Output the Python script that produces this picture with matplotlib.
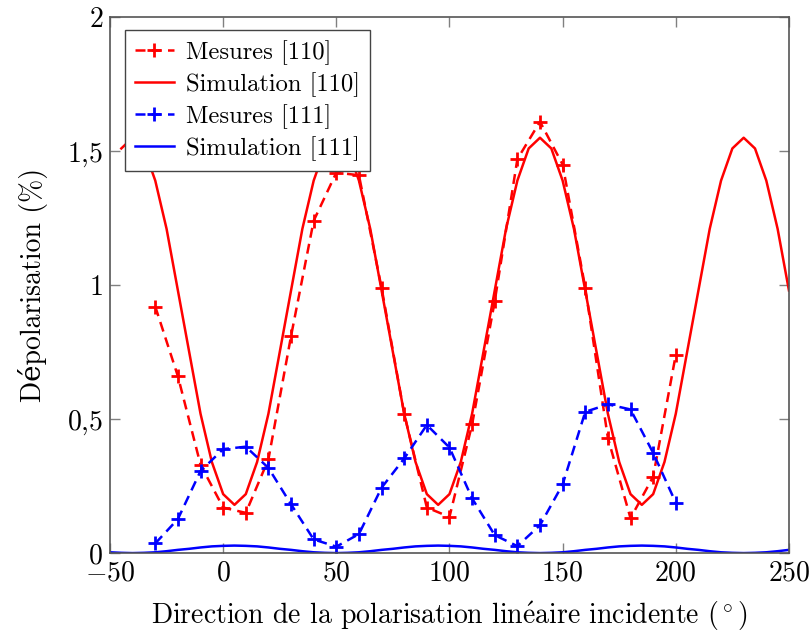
import matplotlib
matplotlib.use('Agg')
import matplotlib.pyplot as plt
import numpy as np
from matplotlib.ticker import FixedLocator, FuncFormatter

# measured points, every 10 degrees
mes_angle = np.arange(-30, 201, 10)
mes_110 = [0.92, 0.66, 0.33, 0.17, 0.15, 0.35, 0.81, 1.24, 1.42, 1.41, 0.99, 0.52,
           0.17, 0.135, 0.48, 0.94, 1.47, 1.61, 1.45, 0.99, 0.43, 0.13, 0.285, 0.74]
mes_111 = [0.036, 0.127, 0.306, 0.388, 0.397, 0.318, 0.182, 0.051, 0.024, 0.071, 0.244, 0.353,
           0.478, 0.394, 0.204, 0.067, 0.026, 0.104, 0.256, 0.527, 0.555, 0.536, 0.374, 0.188]

# simulations, every 5 degrees
sim_110_angle = np.arange(-45, 251, 5)
sim_110 = [1.51, 1.55, 1.51, 1.39, 1.21, 0.98, 0.75, 0.52, 0.34, 0.22,
           0.18, 0.22, 0.34, 0.52, 0.75, 0.98, 1.21, 1.39, 1.51, 1.55,
           1.51, 1.39, 1.21, 0.98, 0.75, 0.52, 0.34, 0.22, 0.18, 0.22,
           0.34, 0.52, 0.75, 0.98, 1.21, 1.39, 1.51, 1.55, 1.51, 1.39,
           1.21, 0.98, 0.75, 0.52, 0.34, 0.22, 0.18, 0.22, 0.34, 0.52,
           0.75, 0.98, 1.21, 1.39, 1.51, 1.55, 1.51, 1.39, 1.21, 0.98]
sim_111_angle = np.arange(-50, 251, 5)
sim_111 = [0.003, 0.001, 0.0, 0.001, 0.003, 0.007, 0.012, 0.016, 0.021, 0.025,
           0.027, 0.028, 0.027, 0.025, 0.021, 0.016, 0.012, 0.007, 0.003, 0.001,
           0.0, 0.001, 0.003, 0.007, 0.012, 0.016, 0.021, 0.025, 0.027, 0.028,
           0.027, 0.025, 0.021, 0.016, 0.012, 0.007, 0.003, 0.001, 0.0, 0.001,
           0.003, 0.007, 0.012, 0.016, 0.021, 0.025, 0.027, 0.028, 0.027, 0.025,
           0.021, 0.016, 0.012, 0.007, 0.003, 0.001, 0.0, 0.001, 0.003, 0.007,
           0.012]

x_ticks = [-50, 0, 50, 100, 150, 200, 250]
y_ticks = [0, 0.5, 1, 1.5, 2]


def tick_fmt(v, pos):
    s = f'{v:g}'.replace('.', '{,}')
    return f'${s}$'


def main():
    plt.rcParams['font.family'] = ['cmr10', 'DejaVu Serif']
    plt.rcParams['mathtext.fontset'] = 'cm'
    plt.rcParams['axes.unicode_minus'] = False

    fig = plt.figure(figsize=(8.1, 6.35), dpi=100)
    ax = fig.add_axes([0.1358, 0.129, 0.8382, 0.844])

    dash = dict(linestyle=(0, (4, 2.5)), linewidth=1.8, marker='+', markersize=10, markeredgewidth=2)
    ax.plot(mes_angle, mes_110, color='#ff0000', label='Mesures [110]', **dash)
    ax.plot(sim_110_angle, sim_110, color='#ff0000', linewidth=1.8, label='Simulation [110]')
    ax.plot(mes_angle, mes_111, color='#0000ff', label='Mesures [111]', **dash)
    ax.plot(sim_111_angle, sim_111, color='#0000ff', linewidth=1.8, label='Simulation [111]')

    ax.set_xlim(-50, 250)
    ax.set_ylim(0, 2)
    ax.xaxis.set_major_locator(FixedLocator(x_ticks))
    ax.yaxis.set_major_locator(FixedLocator(y_ticks))
    ax.xaxis.set_major_formatter(FuncFormatter(tick_fmt))
    ax.yaxis.set_major_formatter(FuncFormatter(tick_fmt))
    ax.tick_params(direction='in', length=7, width=1, color='#808080', labelsize=20,
                   top=True, right=True, pad=5)
    for s in ax.spines.values():
        s.set_color('#555555')
        s.set_linewidth(1.2)

    ax.set_xlabel(r'Direction de la polarisation lin$\mathrm{\acute{e}}$aire incidente $(^\circ)$',
                  fontsize=20, labelpad=9)
    ax.set_ylabel('Dépolarisation (%)', fontsize=20, labelpad=14)

    leg = ax.legend(loc='upper left', bbox_to_anchor=(0.022, 0.976), borderaxespad=0, fontsize=17.7,
                    fancybox=False, framealpha=1, edgecolor='#444444', handlelength=1.6, borderpad=0.4,
                    labelspacing=0.3, handletextpad=0.5)
    leg.get_frame().set_linewidth(1.0)

    fig.savefig('out.png', dpi=100)


if __name__ == '__main__':
    main()
